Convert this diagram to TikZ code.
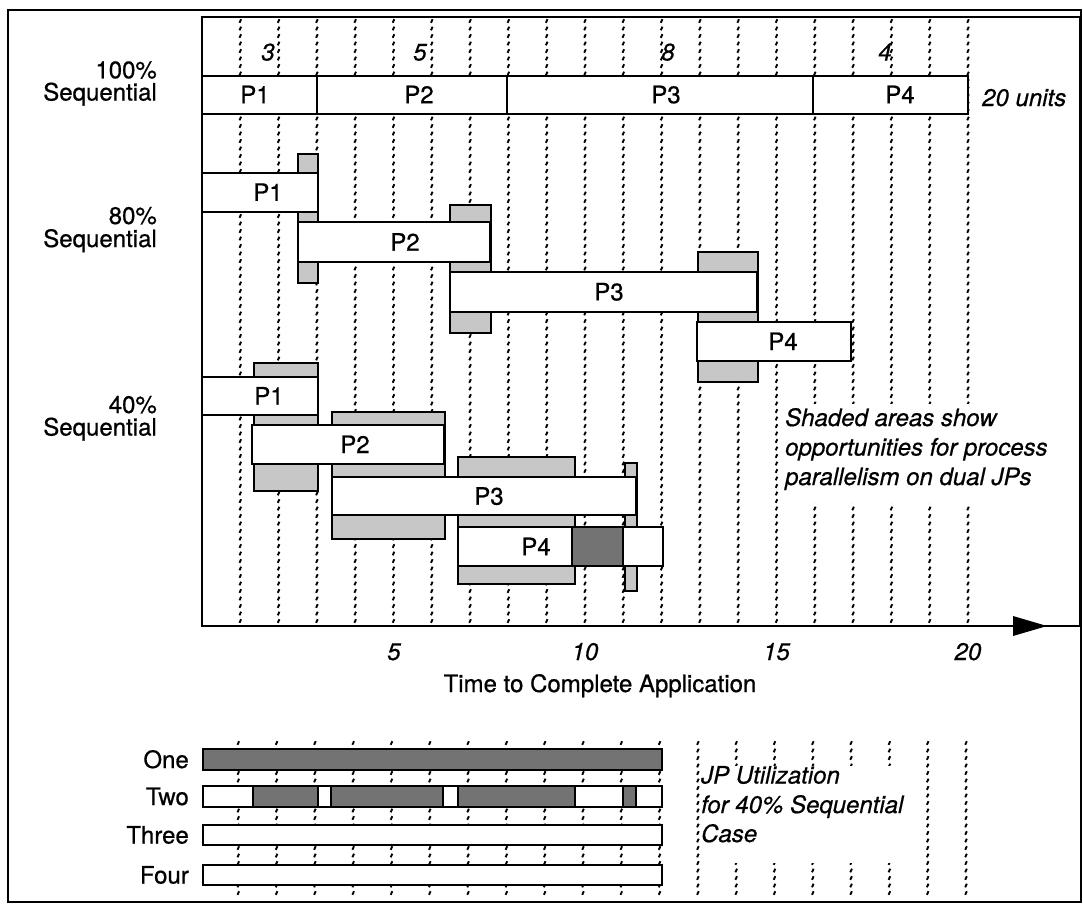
\documentclass[tikz,border=0pt]{standalone}
\usepackage{fontspec}
\setmainfont{TeX Gyre Heros}[FakeBold=0.6]
\begin{document}
\begin{tikzpicture}[x=1pt,y=-1pt,
  bx/.style={draw=black, line width=2pt, fill=white},
  lshade/.style={draw=black, line width=2pt, fill=black!22},
  dshade/.style={draw=black, line width=2pt, fill=black!55},
  dashmark/.style={line width=1.9pt},
  lbl/.style={font=\fontsize{24}{24}\selectfont, inner sep=0pt, anchor=base},
  ilbl/.style={font=\fontsize{24}{24}\selectfont\itshape, inner sep=0pt, anchor=base},
  frame/.style={line width=2.2pt}]
\useasboundingbox (0,0) rectangle (1083,903);
\fill[white] (0,0) rectangle (1083,903);

% dashed time grid (short slanted strokes)
\draw[dashmark] foreach \k in {1,...,20} { foreach \j in {0,...,80} {
  ({202+38.3*\k-0.8},{21+7.5*\j+1.8}) -- ({202+38.3*\k+0.8},{21+7.5*\j-1.8}) } };
\draw[dashmark] foreach \k in {1,...,20} { foreach \j in {0,...,20} {
  ({200+38.3*\k-0.8},{743+7.5*\j+1.8}) -- ({200+38.3*\k+0.8},{743+7.5*\j-1.8}) } };
% masks behind annotations
\fill[white] (782,404) rectangle (1062,503);
\fill[white] (703,766) rectangle (912,863);

% 100% sequential row
\draw[bx] (202,75.5) rectangle (317,113.5);
\draw[bx] (317,75.5) rectangle (507,113.5);
\draw[bx] (507,75.5) rectangle (813,113.5);
\draw[bx] (813,75.5) rectangle (968,113.5);
\node[lbl] (s1) at (255,103.2) {P1};
\node[lbl] (s2) at (419,103.2) {P2};
\node[lbl] (s3) at (666,103.2) {P3};
\node[lbl] (s4) at (900,103.2) {P4};
\node[ilbl] (n3) at (268,60.5) {3};
\node[ilbl] (n5) at (420,60.5) {5};
\node[ilbl] (n8) at (668,60.5) {8};
\node[ilbl] (n4) at (885,60.5) {4};
\node[ilbl, anchor=base west] (units) at (982,106) {20 units};

% 80% sequential
\draw[lshade] (298,154) rectangle (318,283);
\draw[lshade] (450,205) rectangle (491,333);
\draw[lshade] (698,252) rectangle (758,382);
\draw[bx] (202,172.7) rectangle (318,211.7);
\draw[bx] (298,222.3) rectangle (490,261.7);
\draw[bx] (450,271.7) rectangle (757,311.7);
\draw[bx] (697,321.7) rectangle (851,361);
\node[lbl] (e1) at (268,200.9) {P1};
\node[lbl] (e2) at (405,250.7) {P2};
\node[lbl] (e3) at (609,300.4) {P3};
\node[lbl] (e4) at (783,350) {P4};

% 40% sequential
\draw[lshade] (254,362.7) rectangle (318,490.7);
\draw[lshade] (332,412.3) rectangle (444.5,539.3);
\draw[lshade] (458,456.7) rectangle (575,584);
\draw[lshade] (625,463) rectangle (636.7,591);
\draw[bx] (202,376.7) rectangle (318,415);
\draw[bx] (252,425) rectangle (443.5,463.7);
\draw[bx] (332,477) rectangle (636,515);
\draw[bx] (458,527) rectangle (663,566);
\draw[dshade] (572,527) rectangle (623,566);
\node[lbl] (f1) at (269,404.5) {P1};
\node[lbl] (f2) at (355,453) {P2};
\node[lbl] (f3) at (489,504.7) {P3};
\node[lbl] (f4) at (536,555.2) {P4};

% row labels
\node[lbl, anchor=base east] (r100a) at (157,78.3) {100\%};
\node[lbl, anchor=base east] (r100b) at (157,100.5) {Sequential};
\node[lbl, anchor=base east] (r80a) at (157,224) {80\%};
\node[lbl, anchor=base east] (r80b) at (157,247) {Sequential};
\node[lbl, anchor=base east] (r40a) at (157,413) {40\%};
\node[lbl, anchor=base east] (r40b) at (157,435.5) {Sequential};

% annotation
\node[ilbl, anchor=base west] (an1) at (785,426) {Shaded areas show};
\node[ilbl, anchor=base west] (an2) at (785,455.5) {opportunities for process};
\node[ilbl, anchor=base west] (an3) at (785,485) {parallelism on dual JPs};

% chart frame and axis
\draw[frame] (202,17) rectangle (1080,626);
\fill (1013,616) -- (1047,626) -- (1013,636) -- cycle;
\node[ilbl] (t5) at (394,660) {5};
\node[ilbl] (t10) at (585,660) {10};
\node[ilbl] (t15) at (776.5,660) {15};
\node[ilbl] (t20) at (968,660) {20};
\node[lbl] (xlab) at (600,692) {Time to Complete Application};

% JP utilization
\draw[dshade] (203,749) rectangle (662,770);
\draw[bx] (203,786) rectangle (662,807);
\draw[dshade] (253,786) rectangle (318,807);
\draw[dshade] (331,786) rectangle (443,807);
\draw[dshade] (458,786) rectangle (575,807);
\draw[dshade] (623,786) rectangle (636,807);
\draw[bx] (203,825) rectangle (662,845);
\draw[bx] (203,865) rectangle (662,885);
\node[lbl, anchor=base east] (jp1) at (189,768) {One};
\node[lbl, anchor=base east] (jp2) at (189,805) {Two};
\node[lbl, anchor=base east] (jp3) at (189,843.5) {Three};
\node[lbl, anchor=base east] (jp4) at (189,883.5) {Four};
\node[ilbl, anchor=base west] (ju1) at (701,783.5) {JP Utilization};
\node[ilbl, anchor=base west] (ju2) at (701,813) {for 40\% Sequential};
\node[ilbl, anchor=base west] (ju3) at (701,842) {Case};

% outer frame
\draw[line width=2pt] (8,10) rectangle (1081,902);
\end{tikzpicture}
\end{document}
